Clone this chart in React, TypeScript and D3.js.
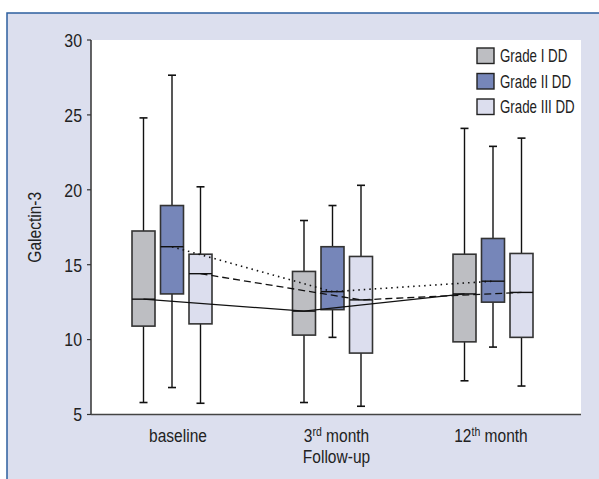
import React from "react";
import * as d3 from "d3";

const timepoints = ["baseline", "3rd month", "12th month"];
const grades = ["Grade I DD", "Grade II DD", "Grade III DD"];
const gradeColors = ["#bdbec2", "#7686b9", "#dcdeee"];
const lineDash = ["none", "1.5 4", "7 4"];

// [whiskerLow, q1, median, q3, whiskerHigh] per timepoint, per grade
const gradeI = [
  [5.8, 10.9, 12.7, 17.25, 24.8],
  [5.8, 10.3, 11.9, 14.55, 17.95],
  [7.25, 9.85, 13.05, 15.7, 24.1],
];
const gradeII = [
  [6.8, 13.05, 16.2, 18.95, 27.65],
  [10.15, 12.0, 13.2, 16.2, 18.95],
  [9.5, 12.5, 13.9, 16.75, 22.9],
];
const gradeIII = [
  [5.75, 11.05, 14.4, 15.7, 20.2],
  [5.55, 9.1, 12.65, 15.55, 20.3],
  [6.9, 10.15, 13.15, 15.75, 23.45],
];
const yTicks = [5, 10, 15, 20, 25, 30];

const series = [gradeI, gradeII, gradeIII];

const FONT = "'Liberation Sans', Arial, sans-serif";

function NText({ x, y, sx = 0.86, size = 18, anchor = "start", rotate = 0, children }: any) {
  return (
    <text
      transform={`translate(${x},${y}) rotate(${rotate}) scale(${sx},1)`}
      textAnchor={anchor}
      fontSize={size}
      fill="#222"
    >
      {children}
    </text>
  );
}

export default function App() {
  const W = 599, H = 479;
  const left = 91, right = 581, top = 40, bottom = 414.5;
  const y = d3.scaleLinear().domain([5, 30]).range([bottom, top]);
  const x = d3.scalePoint<string>().domain(timepoints).range([172, 493]);
  const off = d3.scalePoint<string>().domain(grades).range([-28.5, 28.5]);
  const boxW = 23;

  const line = d3.line<[number, number]>().x((d) => d[0]).y((d) => d[1]);

  return (
    <svg width={W} height={H} style={{ position: "absolute", left: 0, top: 0 }} fontFamily={FONT}>
      <rect x={0} y={0} width={W} height={H} fill="#ffffff" />
      <rect x={7} y={13} width={W} height={H} fill="#dcdfee" stroke="#2d5f9e" strokeWidth={1.5} />
      <rect x={left} y={top} width={right - left} height={bottom - top} fill="#ffffff" />

      {/* boxes */}
      {series.map((s, gi) =>
        s.map((v, ti) => {
          const cx = (x(timepoints[ti]) as number) + (off(grades[gi]) as number);
          const [lo, q1, med, q3, hi] = v;
          return (
            <g key={`${gi}-${ti}`}>
              <line x1={cx} x2={cx} y1={y(hi)} y2={y(q3)} stroke="#111" strokeWidth={1.4} />
              <line x1={cx} x2={cx} y1={y(q1)} y2={y(lo)} stroke="#111" strokeWidth={1.4} />
              <line x1={cx - 4} x2={cx + 4} y1={y(hi)} y2={y(hi)} stroke="#111" strokeWidth={1.6} />
              <line x1={cx - 4} x2={cx + 4} y1={y(lo)} y2={y(lo)} stroke="#111" strokeWidth={1.6} />
              <rect x={cx - boxW / 2} y={y(q3)} width={boxW} height={y(q1) - y(q3)} fill={gradeColors[gi]} stroke="#333" strokeWidth={1.6} />
              <line x1={cx - boxW / 2} x2={cx + boxW / 2} y1={y(med)} y2={y(med)} stroke="#111" strokeWidth={1.4} />
            </g>
          );
        })
      )}

      {/* median connecting lines */}
      {series.map((s, gi) => {
        const pts: [number, number][] = s.map((v, ti) => [
          (x(timepoints[ti]) as number) + (off(grades[gi]) as number),
          y(v[2]),
        ]);
        return (
          <path key={`l${gi}`} d={line(pts) || ""} fill="none" stroke="#111" strokeWidth={gi === 1 ? 1.6 : 1.3} strokeDasharray={lineDash[gi]} />
        );
      })}

      {/* axes */}
      <line x1={left} x2={left} y1={top} y2={bottom} stroke="#333" strokeWidth={1.5} />
      <line x1={left} x2={right} y1={bottom} y2={bottom} stroke="#444" strokeWidth={1.5} />
      {yTicks.map((t) => (
        <g key={t}>
          <line x1={left - 4} x2={left} y1={y(t)} y2={y(t)} stroke="#333" strokeWidth={1.2} />
          <NText x={left - 9} y={y(t) + 6.8} size={18.5} anchor="end" sx={0.86}>{t}</NText>
        </g>
      ))}
      <NText x={41} y={(top + bottom) / 2} anchor="middle" rotate={-90} sx={0.84} size={18.5}>Galectin-3</NText>

      {/* x labels */}
      <NText x={(x("baseline") as number) + 6} y={442} anchor="middle" size={18.5} sx={0.84}>baseline</NText>
      <NText x={(x("3rd month") as number) + 4} y={442} anchor="middle" size={18.5} sx={0.84}>
        3<tspan fontSize={12.5} dy={-6.5}>rd</tspan><tspan dy={6.5}> month</tspan>
      </NText>
      <NText x={(x("3rd month") as number) + 4} y={462.5} anchor="middle" size={18.5} sx={0.84}>Follow-up</NText>
      <NText x={(x("12th month") as number) - 2} y={442} anchor="middle" size={18.5} sx={0.84}>
        12<tspan fontSize={12.5} dy={-6.5}>th</tspan><tspan dy={6.5}> month</tspan>
      </NText>

      {/* legend */}
      {grades.map((g, i) => (
        <g key={g} transform={`translate(477,${48 + i * 25.5})`}>
          <rect x={0} y={0} width={17} height={15.5} fill={gradeColors[i]} stroke="#222" strokeWidth={1.4} />
          <NText x={23} y={14} size={18} sx={0.74}>{g}</NText>
        </g>
      ))}
    </svg>
  );
}
